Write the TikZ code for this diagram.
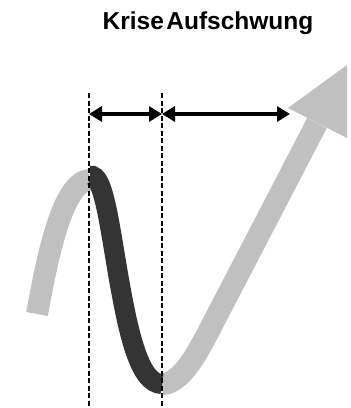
\documentclass[tikz,border=0pt]{standalone}
\usepackage{fontspec}
\setmainfont{Liberation Sans}
\usetikzlibrary{arrows.meta}
\definecolor{lightg}{HTML}{C0C0C0}
\definecolor{darkg}{HTML}{343434}
\begin{document}
\begin{tikzpicture}[x=1pt,y=-1pt,
  graycurve/.style={draw=lightg,line width=22pt,line cap=butt},
  darkcurve/.style={draw=darkg,line width=20pt,line cap=butt},
  guide/.style={draw=black,line width=1.8pt,dash pattern=on 5pt off 2.5pt},
  span/.style={draw=black,line width=4.5pt,{Triangle[length=13pt,width=15pt]}-{Triangle[length=13pt,width=15pt]}},
  titletext/.style={font=\bfseries\fontsize{24.5}{24.5}\selectfont,anchor=base,inner sep=0pt}]
\useasboundingbox (0,0) rectangle (351,408);
\clip (0,0) rectangle (351,408);
% named points
\coordinate (start) at (37,314);
\coordinate (peak) at (90,175);
\coordinate (mid) at (120,285);
\coordinate (trough) at (162,384);
\coordinate (bend) at (212,325);
\coordinate (base) at (317,123);
\coordinate (hl) at (288,108);
\coordinate (ht) at (347,65);
\coordinate (hb) at (347,138);
\coordinate (g1t) at (89,93);
\coordinate (g1b) at (89,408);
\coordinate (g2t) at (162,93);
\coordinate (g2b) at (162,408);
\coordinate (a1) at (89,114);
\coordinate (a2) at (162,114);
\coordinate (a3) at (290,114);
% gray curve and arrow
\path[graycurve] (start) .. controls (47,260) and (62,181) .. ([yshift=-5pt]peak);
\path[graycurve] (trough) .. controls (182,384) and (199,350) .. (bend) -- (base);
\fill[lightg] (hl) -- (ht) -- (hb) -- cycle;
% dark segment
\path[darkcurve] ([yshift=-1pt]peak) .. controls (104,172) and (110,230) .. (mid)
  .. controls (129,335) and (140,384) .. (trough);
% guides
\path[guide] (g1t) -- (g1b);
\path[guide] (g2t) -- (g2b);
% spans
\path[span] (a1) -- (a2);
\path[span] (a2) -- (a3);
% title
\node[titletext] (title) at (208,29) {Krise\hspace{2.5pt}Aufschwung};
\end{tikzpicture}
\end{document}
